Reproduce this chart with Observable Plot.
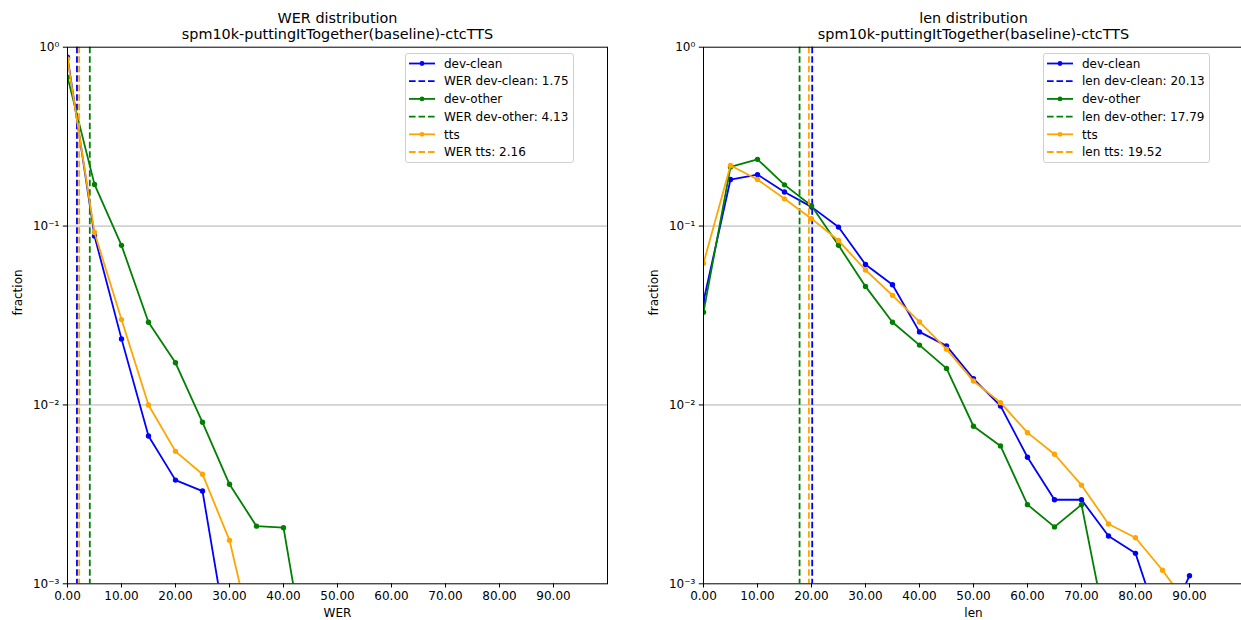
<!DOCTYPE html>
<html>
<head>
<meta charset="utf-8">
<script src="https://cdn.jsdelivr.net/npm/d3@7"></script>
<script src="https://cdn.jsdelivr.net/npm/@observablehq/plot@0.6"></script>
<style>
  html, body { margin: 0; padding: 0; background: #fff; width: 1241px; height: 620px; overflow: hidden; }
  #wrap { position: relative; width: 1241px; height: 620px; font-family: "DejaVu Sans", sans-serif; }
  .panel { position: absolute; top: 0; }
  .legend { position: absolute; background: rgba(255,255,255,0.8); border: 1px solid #d0d0d0; border-radius: 3px; box-sizing: border-box; }
</style>
</head>
<body>
<div id="wrap"></div>
<script>
// ---------- data ----------
const seriesNames = ["dev-clean", "dev-other", "tts"];
const seriesColors = ["blue", "green", "orange"];
const binStarts = [0, 5, 10, 15, 20, 25, 30, 35, 40, 45, 50, 55, 60, 65, 70, 75, 80, 85, 90];
const xTicks = [0, 10, 20, 30, 40, 50, 60, 70, 80, 90];
const yTicks = [1, 0.1, 0.01, 0.001];
const yTickLabels = ["10⁰", "10⁻¹", "10⁻²", "10⁻³"];
const subtitle = "spm10k-puttingItTogether(baseline)-ctcTTS";

// WER distribution (fraction per 5-unit bin)
const werDevClean = [0.88, 0.088, 0.0234, 0.0067, 0.0038, 0.0033, 0.00042];
const werDevOther = [0.68, 0.171, 0.078, 0.029, 0.0172, 0.0080, 0.0036, 0.0021, 0.00206, 0.00027];
const werTts      = [0.86, 0.092, 0.030, 0.0100, 0.0055, 0.0041, 0.00175, 0.0004];
const werMeans    = [1.75, 4.13, 2.16];

// len distribution
const lenDevClean = [0.038, 0.182, 0.194, 0.155, 0.128, 0.0987, 0.061, 0.047, 0.0256, 0.0214, 0.0140, 0.00987, 0.0051, 0.00295, 0.00295, 0.00185, 0.00148, 0.00052, 0.00111];
const lenDevOther = [0.033, 0.214, 0.236, 0.170, 0.130, 0.078, 0.046, 0.029, 0.0216, 0.016, 0.0076, 0.0059, 0.00277, 0.00208, 0.00277, 0.00048];
const lenTts      = [0.062, 0.218, 0.182, 0.142, 0.110, 0.083, 0.0568, 0.041, 0.0291, 0.0205, 0.0136, 0.0103, 0.0070, 0.0053, 0.00356, 0.00216, 0.00181, 0.00119, 0.00074];
const lenMeans    = [20.13, 17.79, 19.52];

// ---------- drawing ----------
const wrap = document.getElementById("wrap");
const LW = 1.8, DASH = "6.6,2.9";

function makePanel(metric, seriesVals, means, left, legendLeft) {
  const marks = [
    Plot.ruleY([0.1, 0.01], {stroke: "#b0b0b0", strokeWidth: 1})
  ];
  seriesVals.forEach((vals, i) => {
    const data = vals.map((v, j) => ({x: binStarts[j], y: v}));
    marks.push(Plot.line(data, {x: "x", y: "y", stroke: seriesColors[i], strokeWidth: LW, clip: true}));
    marks.push(Plot.dot(data, {x: "x", y: "y", fill: seriesColors[i], r: 2.7, clip: true}));
    marks.push(Plot.ruleX([means[i]], {stroke: seriesColors[i], strokeWidth: LW, strokeDasharray: DASH}));
  });
  marks.push(Plot.frame({stroke: "black", strokeWidth: 1}));
  marks.push(Plot.axisX({ticks: xTicks, tickFormat: d => d.toFixed(2), tickSize: 4.2, tickPadding: 3, label: null, fontSize: 12}));
  marks.push(Plot.axisY({ticks: yTicks, tickFormat: d => yTickLabels[yTicks.indexOf(d)], tickSize: 4.2, tickPadding: 4, label: null, fontSize: 12}));
  marks.push(Plot.text([metric], {text: d => d, frameAnchor: "bottom", lineAnchor: "middle", dy: 29.5, fontSize: 12}));
  marks.push(Plot.text(["fraction"], {text: d => d, frameAnchor: "left", dx: -49, rotate: -90, fontSize: 12}));
  marks.push(Plot.text([metric + " distribution"], {text: d => d, frameAnchor: "top", lineAnchor: "middle", dy: -28.5, fontSize: 14.4}));
  marks.push(Plot.text([subtitle], {text: d => d, frameAnchor: "top", lineAnchor: "middle", dy: -12.5, fontSize: 14.4}));

  const chart = Plot.plot({
    width: 620, height: 620,
    marginLeft: 67, marginRight: 13, marginTop: 46.7, marginBottom: 36.7,
    x: {domain: [0, 100]},
    y: {type: "log", domain: [0.001, 1]},
    style: {fontFamily: "DejaVu Sans", fontSize: "12px", color: "black", background: "transparent", overflow: "visible"},
    marks
  });
  chart.classList.add("panel");
  chart.style.left = left + "px";
  wrap.appendChild(chart);

  // legend
  const entries = [];
  seriesNames.forEach((n, i) => {
    entries.push({label: n, color: seriesColors[i], dashed: false});
    entries.push({label: `${metric} ${n}: ${means[i].toFixed(2)}`, color: seriesColors[i], dashed: true});
  });
  const lg = document.createElement("div");
  lg.className = "legend";
  lg.style.left = legendLeft + "px";
  lg.style.top = "53px";
  lg.style.width = (metric === "WER" ? 168.5 : 167.5) + "px";
  lg.style.height = "110px";
  const svg = d3.create("svg").attr("width", 168).attr("height", 108).style("position", "absolute").style("left", "0").style("top", "0");
  entries.forEach((e, k) => {
    const y = 9.5 + k * 17.7;
    svg.append("line").attr("x1", 3).attr("x2", 29).attr("y1", y).attr("y2", y)
      .attr("stroke", e.color).attr("stroke-width", LW).attr("stroke-dasharray", e.dashed ? DASH : null);
    if (!e.dashed) svg.append("circle").attr("cx", 16).attr("cy", y).attr("r", 2.4).attr("fill", e.color);
    svg.append("text").attr("x", 38).attr("y", y).attr("dy", "0.35em")
      .attr("font-family", "DejaVu Sans").attr("font-size", 12).attr("fill", "black").text(e.label);
  });
  lg.appendChild(svg.node());
  wrap.appendChild(lg);
}

makePanel("WER", [werDevClean, werDevOther, werTts], werMeans, 0, 405);
makePanel("len", [lenDevClean, lenDevOther, lenTts], lenMeans, 636, 1042.5);
</script>
</body>
</html>
